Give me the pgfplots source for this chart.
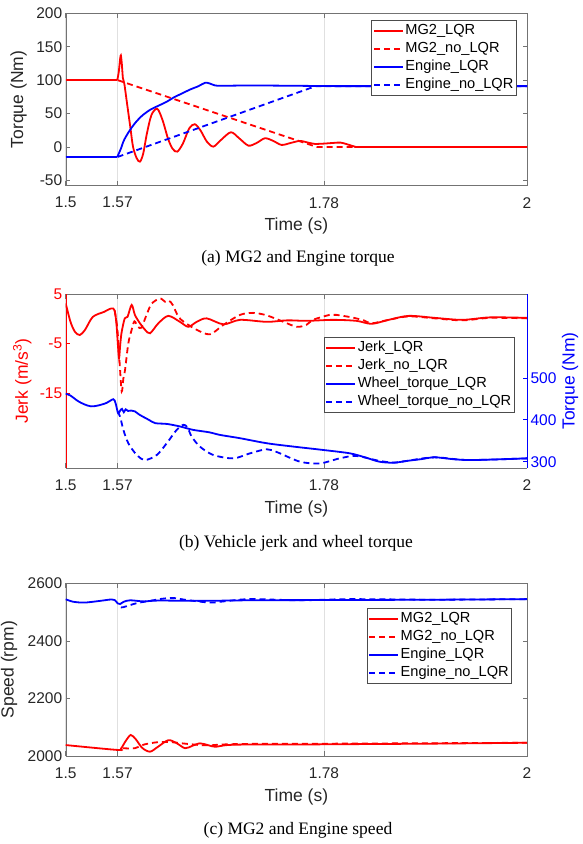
\documentclass[border=0pt]{standalone}
\usepackage{fontspec}
\setmainfont{Liberation Sans}
\newfontfamily\capfont{Liberation Serif}
\usepackage{pgfplots}
\pgfplotsset{compat=1.18}
\definecolor{axgray}{gray}{0.45}
\definecolor{txtgray}{gray}{0.15}
\pgfplotsset{
  myaxis/.style={
    scale only axis, width=461.3pt,
    xmin=1.5, xmax=2,
    xtick={1.5,1.5562,1.78,2}, xticklabels={1.5,1.57,1.78,2},
    /pgf/number format/assume math mode=true,
    /pgf/number format/1000 sep={},
    tick label style={font=\fontsize{15.5}{18}\selectfont, text=txtgray},
    label style={font=\fontsize{17.5}{20}\selectfont, text=txtgray},
    xticklabel style={yshift=-8pt},
    axis line style={axgray,-}, tick style={axgray, line width=0.6pt},
    grid style={black!12, line width=0.6pt},
    xlabel style={at={(axis description cs:0.5,-0.235)}, anchor=center},
    legend cell align=left,
    legend style={font=\fontsize{14.6}{17}\selectfont, draw=black!70, line width=0.6pt, inner sep=1.5pt, row sep=0pt, nodes={inner sep=1.5pt, text height=11pt, text depth=4pt}, anchor=north east},
    legend image code/.code={\draw[##1] (0pt,0pt) -- (29pt,0pt);},
    every axis plot/.append style={line width=1.8pt},
    tick align=inside, major tick length=4.5pt,
  },
  dsh/.style={dash pattern=on 6pt off 4pt},
}
\begin{document}
\begin{tikzpicture}
\path[use as bounding box] (0,0) rectangle (582pt,844pt);
% ---------------- panel (a)
\begin{axis}[myaxis, at={(65.7pt,658.3pt)}, anchor=south west, height=172.4pt,
  ymin=-58, ymax=200, ytick={-50,0,50,100,150,200},
  xmajorgrids, xlabel={Time (s)}, ylabel={Torque (Nm)},
  ylabel style={at={(axis description cs:-0.1023,0.5)}, anchor=center},
  legend style={at={(0.9777,0.961)}}]
\addplot[red, forget plot] coordinates {(1.5,100) (1.5559,100)};
\addplot[red, smooth, tension=0.5] coordinates {
(1.5559,100) (1.5575,112) (1.5590,132) (1.5598,137) (1.5608,125) (1.5620,103) (1.5635,95)
(1.5660,70) (1.5700,30) (1.5730,0) (1.5770,-17) (1.5805,-22) (1.5840,-10) (1.5880,20)
(1.5930,48) (1.5993,57) (1.6050,40) (1.6110,12) (1.6160,-3) (1.6210,-7) (1.6270,5)
(1.6340,28) (1.6400,34) (1.6460,25) (1.6530,8) (1.6600,0.5) (1.6680,10) (1.6790,22)
(1.6880,13) (1.6980,2) (1.7070,6) (1.7160,13) (1.7250,9) (1.7340,3) (1.7440,6)
(1.7540,9) (1.7640,6) (1.7700,4.5) (1.7800,5) (1.7900,6) (1.7980,6.5) (1.8050,4)
(1.8135,0.5) (1.8200,0) (1.9,0) (2,0)};
\addlegendentry{MG2\_LQR}
\addplot[red, dsh] coordinates {(1.5562,100) (1.772,0) (2,0)};
\addlegendentry{MG2\_no\_LQR}
\addplot[blue, forget plot] coordinates {(1.5,-15) (1.5559,-15)};
\addplot[blue, smooth, tension=0.5] coordinates {
(1.5559,-15) (1.5575,-10) (1.5600,-2) (1.5625,8) (1.5655,16) (1.5700,26) (1.5760,37)
(1.5830,47) (1.5920,56) (1.6010,62) (1.6100,68) (1.6170,74) (1.6260,80) (1.6350,86)
(1.6440,91) (1.6510,96) (1.6560,95) (1.6620,92) (1.6700,91.5) (1.7000,92) (1.7500,91.5)
(1.8000,91) (1.9000,91) (2,91)};
\addlegendentry{Engine\_LQR}
\addplot[blue, dsh] coordinates {(1.5562,-15) (1.771,91) (2,91)};
\addlegendentry{Engine\_no\_LQR}
\end{axis}
\node[font=\capfont\fontsize{17.5}{20}\selectfont] at (298pt,586pt) {(a) MG2 and Engine torque};
% ---------------- panel (b) left
\begin{axis}[myaxis, at={(65.7pt,376pt)}, anchor=south west, height=174pt,
  ymin=-30, ymax=5, ytick={-15,-5,5},
  axis y line*=left, axis x line*=box,
  x axis line style={axgray,-}, y axis line style={red,-},
  ytick style={draw=red, line width=0.6pt},
  yticklabel style={text=red},
  tick align=inside,
  xmajorgrids, xlabel={Time (s)}, ylabel={Jerk (m/s\textsuperscript{3})},
  ylabel style={at={(axis description cs:-0.0943,0.5)}, anchor=center, text=red}]
\addplot[red, smooth, tension=0.5] coordinates {
(1.5,3.1) (1.5052,-0.6) (1.5100,-2.6) (1.5153,-3.25) (1.5210,-2.2) (1.5294,0.4)
(1.5415,1.4) (1.5495,2.1) (1.5530,1.7) (1.5550,-1) (1.5565,-5) (1.5578,-7.9)
(1.5592,-5) (1.5607,-2.6) (1.5640,0.1) (1.5670,0.4) (1.5715,2.8) (1.5750,0.8)
(1.5805,-0.9) (1.5860,-2.2) (1.5914,-2.9) (1.6004,-0.9) (1.6112,0.6) (1.6238,-0.6)
(1.6329,-1.6) (1.6420,-0.6) (1.6528,0.1) (1.6710,-1.1) (1.6890,-0.2) (1.7180,-0.6)
(1.7400,-0.3) (1.7615,-0.4) (1.7900,-0.2) (1.8150,-0.4) (1.8316,-1.0) (1.8500,-0.2)
(1.8719,0.6) (1.9000,0.2) (1.9300,-0.2) (1.9600,0.3) (2,0.2)};
\addplot[red, dsh, smooth, tension=0.5] coordinates {
(1.5530,1.7) (1.5560,-2) (1.5585,-9) (1.5607,-14.6) (1.5625,-12) (1.5643,-10.3)
(1.5679,-4.9) (1.5715,-2.2) (1.5745,-0.5) (1.5780,-1.5) (1.5820,-1.8) (1.5870,0.5)
(1.5930,3) (1.6022,4.1) (1.6080,3.4) (1.6122,3.6) (1.6160,2.8) (1.6220,0.5)
(1.6280,-0.6) (1.6420,-2.2) (1.6564,-3.1) (1.6710,-1.2) (1.6890,0.8) (1.7033,1.2)
(1.7180,0.7) (1.7360,-0.6) (1.7504,-1.6) (1.7610,-1.2) (1.7680,-0.2) (1.7860,0.8)
(1.7933,0.8) (1.8100,0.3) (1.8230,-0.3) (1.8316,-0.9) (1.8500,-0.2) (1.8719,0.5)
(1.9000,0.1) (1.9300,-0.3) (1.9600,0.2) (2,0.1)};
\end{axis}
% ---------------- panel (b) right
\begin{axis}[myaxis, at={(65.7pt,376pt)}, anchor=south west, height=174pt,
  ymin=285, ymax=700, ytick={300,400,500},
  axis y line*=right, hide x axis, xtick=\empty,
  y axis line style={blue,-},
  ytick style={draw=blue, line width=0.6pt},
  yticklabel style={text=blue},
  tick align=inside,
  ylabel={Torque (Nm)},
  ylabel style={at={(axis description cs:1.0935,0.5)}, anchor=center, text=blue},
  legend style={at={(0.9729,0.751)}}]
\addlegendimage{red, line width=1.8pt}
\addlegendentry{Jerk\_LQR}
\addlegendimage{red, line width=1.8pt, dsh}
\addlegendentry{Jerk\_no\_LQR}
\addplot[blue, smooth, tension=0.5] coordinates {
(1.5,462) (1.5050,458) (1.5130,445) (1.5200,437) (1.5274,432) (1.5350,434) (1.5440,440)
(1.5516,449) (1.5540,440) (1.5568,416) (1.5590,422) (1.5610,426) (1.5630,418)
(1.5650,425) (1.5675,421) (1.5710,422) (1.5750,420) (1.5800,412) (1.5900,400)
(1.5970,392) (1.6100,390) (1.6240,384) (1.6380,376) (1.6560,370) (1.6670,364)
(1.6890,356) (1.7180,344) (1.7470,336) (1.7790,328) (1.8080,320) (1.8250,310)
(1.8400,300) (1.8558,297.6) (1.8700,302) (1.8850,306) (1.8997,310.5) (1.9200,306)
(1.9361,304) (1.9600,305) (2,308)};
\addlegendentry{Wheel\_torque\_LQR}
\addplot[blue, dsh, smooth, tension=0.5] coordinates {
(1.5560,420) (1.5589,408) (1.5625,376) (1.5679,344) (1.5770,316) (1.5860,304)
(1.5987,316) (1.6095,344) (1.6203,376) (1.6275,388) (1.6320,382) (1.6365,360)
(1.6455,336) (1.6600,316) (1.6817,308) (1.6998,320) (1.7179,329.7) (1.7300,322)
(1.7540,300) (1.7756,296) (1.7970,308) (1.8150,313.7) (1.8400,302) (1.8558,298)
(1.8700,302) (1.8997,310.5) (1.9361,304) (2,308)};
\addlegendentry{Wheel\_torque\_no\_LQR}
\end{axis}
\node[font=\capfont\fontsize{17.5}{20}\selectfont] at (296pt,300.7pt) {(b) Vehicle jerk and wheel torque};
% ---------------- panel (c)
\begin{axis}[myaxis, at={(65.7pt,88pt)}, anchor=south west, height=172.7pt,
  ymin=2000, ymax=2600, ytick={2000,2200,2400,2600},
  xmajorgrids, xlabel={Time (s)}, ylabel={Speed (rpm)},
  ylabel style={at={(axis description cs:-0.1225,0.5)}, anchor=center},
  legend style={at={(0.9675,0.855)}}]
\addplot[red, smooth, tension=0.5] coordinates {
(1.5,2038) (1.5563,2021) (1.5600,2026) (1.5650,2052) (1.5705,2073) (1.5760,2058)
(1.5830,2028) (1.5914,2015) (1.6000,2032) (1.6112,2055) (1.6200,2045) (1.6293,2027)
(1.6370,2035) (1.6455,2044) (1.6540,2038) (1.6620,2032) (1.6750,2038) (1.7000,2040)
(1.7500,2040) (1.8000,2041) (1.9000,2043) (2,2046)};
\addlegendentry{MG2\_LQR}
\addplot[red, dsh, smooth, tension=0.5] coordinates {
(1.5620,2027) (1.5750,2027) (1.5850,2040) (1.6000,2048) (1.6150,2048) (1.6260,2044)
(1.6455,2038) (1.6560,2037) (1.6700,2040) (1.7000,2042) (1.8000,2043) (2,2046)};
\addlegendentry{MG2\_no\_LQR}
\addplot[blue, smooth, tension=0.5] coordinates {
(1.5,2544.5) (1.5080,2536) (1.5200,2533) (1.5350,2538) (1.5495,2544) (1.5530,2542)
(1.5565,2530) (1.5590,2528) (1.5630,2536) (1.5700,2541) (1.5850,2537) (1.6000,2540)
(1.6500,2539) (1.7000,2541) (1.8000,2542) (1.9000,2543) (2,2545)};
\addlegendentry{Engine\_LQR}
\addplot[blue, dsh, smooth, tension=0.5] coordinates {
(1.5600,2517) (1.5624,2517) (1.5770,2531) (1.5914,2539) (1.6040,2546) (1.6166,2549)
(1.6311,2542) (1.6564,2533) (1.6708,2537) (1.6998,2545) (1.7540,2541) (1.8082,2545)
(1.9000,2543) (2,2545)};
\addlegendentry{Engine\_no\_LQR}
\end{axis}
\node[font=\capfont\fontsize{17.5}{20}\selectfont] at (298pt,13.5pt) {(c) MG2 and Engine speed};
\end{tikzpicture}
\end{document}
